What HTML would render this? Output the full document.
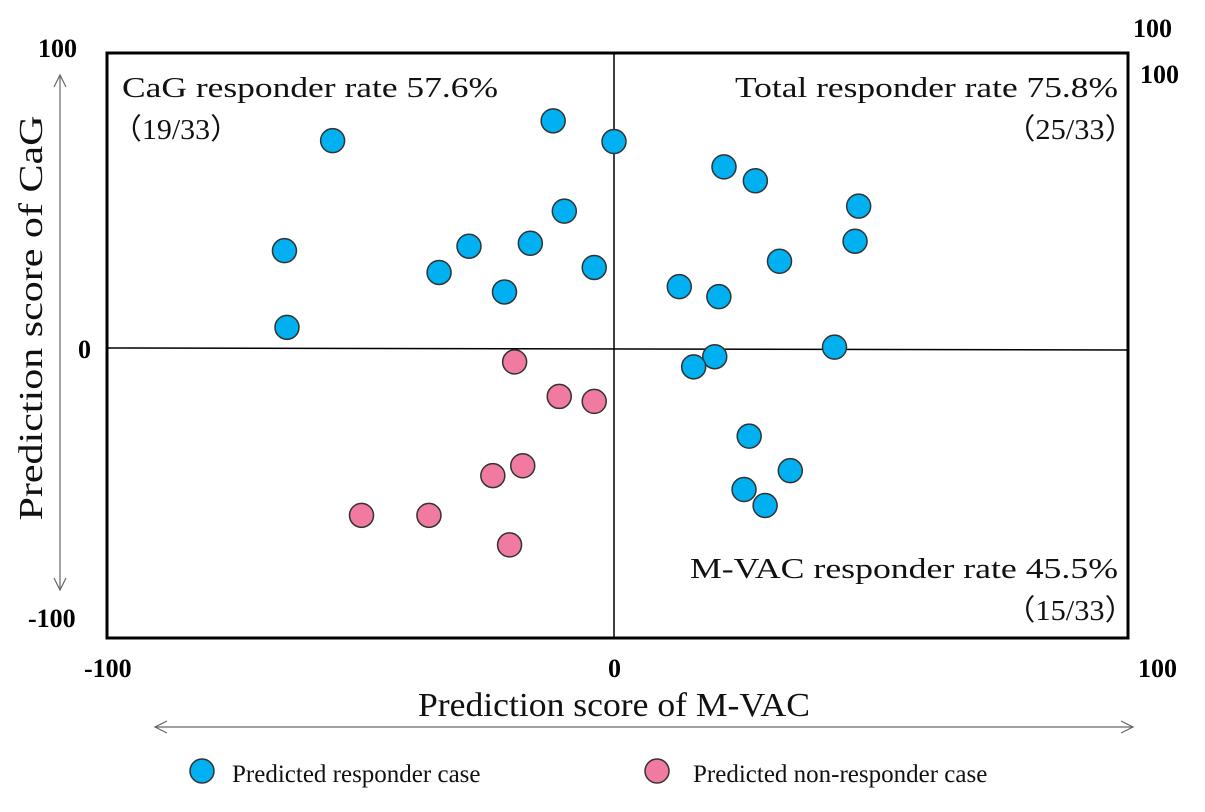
<!DOCTYPE html>
<html><head><meta charset="utf-8"><style>
body{margin:0;background:#fff;width:1205px;height:807px;overflow:hidden;font-family:"Liberation Serif",serif}
</style></head><body>
<svg id="chart" width="1205" height="807" xmlns="http://www.w3.org/2000/svg" font-family="Liberation Serif, serif">
<rect x="107" y="53" width="1021" height="585" fill="none" stroke="#000" stroke-width="3"/>
<line x1="614" y1="53" x2="614" y2="638" stroke="#000" stroke-width="1.5"/>
<line x1="107" y1="348" x2="1128" y2="350" stroke="#000" stroke-width="1.5"/>
<g font-weight="bold" font-size="26" fill="#000">
<text x="38" y="57">100</text>
<text x="78" y="358">0</text>
<text x="28" y="627">-100</text>
<text x="1133" y="37">100</text>
<text x="1140" y="83">100</text>
<text x="84" y="677">-100</text>
<text x="608" y="677">0</text>
<text x="1138" y="677">100</text>
</g>
<g font-size="29" fill="#111">
<text x="122" y="97" textLength="376" lengthAdjust="spacingAndGlyphs">CaG responder rate 57.6%</text>
<text x="112" y="139" textLength="128" lengthAdjust="spacingAndGlyphs">（19/33）</text>
<text x="735" y="97" textLength="383" lengthAdjust="spacingAndGlyphs">Total responder rate 75.8%</text>
<text x="1005" y="139" textLength="130" lengthAdjust="spacingAndGlyphs">（25/33）</text>
<text x="690" y="578" textLength="428" lengthAdjust="spacingAndGlyphs">M-VAC responder rate 45.5%</text>
<text x="1005" y="620" textLength="130" lengthAdjust="spacingAndGlyphs">（15/33）</text>
</g>
<text x="418" y="716" font-size="34" fill="#111" textLength="392" lengthAdjust="spacingAndGlyphs">Prediction score of M-VAC</text>
<text transform="translate(42,318) rotate(-90)" font-size="34" text-anchor="middle" fill="#111" textLength="405" lengthAdjust="spacingAndGlyphs">Prediction score of CaG</text>
<g stroke="#666" stroke-width="1.2" fill="none">
<line x1="155" y1="727" x2="1133" y2="727"/><polyline points="167,721 155,727 167,733"/><polyline points="1121,721 1133,727 1121,733"/>
</g>
<g stroke="#666" stroke-width="1.2" fill="none">
<line x1="60" y1="75" x2="60" y2="590"/><polyline points="54,87 60,75 66,87"/><polyline points="54,578 60,590 66,578"/>
</g>
<g id="marks"></g>
<circle cx="202" cy="771" r="12" fill="#00b0f0" stroke="#333" stroke-width="1.5"/>
<text x="232" y="782" font-size="25" fill="#111">Predicted responder case</text>
<circle cx="657" cy="771" r="12" fill="#f07aa0" stroke="#333" stroke-width="1.5"/>
<text x="693" y="782" font-size="25" fill="#111">Predicted non-responder case</text>
</svg>
<script>
const responderX=[-55.5,-12,0,-65,-64.5,-34.5,-28.6,-21.6,-16.5,-9.8,-3.9,21.4,27.5,47.6,46.9,32.2,12.7,20.4,42.9,19.6,15.5,26.3,34.3,25.3,29.4];
const responderY=[70.3,77,70,33,7,25.6,34.5,19,35.5,46.4,27.3,61.4,56.7,48.1,36.2,29.4,20.8,17.4,0.3,-3,-6.5,-30.4,-42.3,-48.8,-54.3];
const nonResponderX=[-19.6,-10.8,-3.9,-18,-23.9,-49.8,-36.5,-20.6];
const nonResponderY=[-4.8,-16.7,-18.4,-40.6,-44,-57.7,-57.7,-67.9];
function xs(v){return v<0?614+v*5.07:614+v*5.14;}
function ys(v){return v>0?348-v*2.95:348-v*2.9;}
const g=document.getElementById('marks');
function draw(X,Y,color,name){
  for(let i=0;i<X.length;i++){
    const c=document.createElementNS('http://www.w3.org/2000/svg','circle');
    c.setAttribute('cx',xs(X[i]));c.setAttribute('cy',ys(Y[i]));c.setAttribute('r',12);
    c.setAttribute('fill',color);c.setAttribute('stroke','#333');c.setAttribute('stroke-width',1.5);
    
    
    g.appendChild(c);
  }
}
draw(responderX,responderY,'#00b0f0','responder-point');
draw(nonResponderX,nonResponderY,'#f07aa0','non-responder-point');
</script>
</body></html>
